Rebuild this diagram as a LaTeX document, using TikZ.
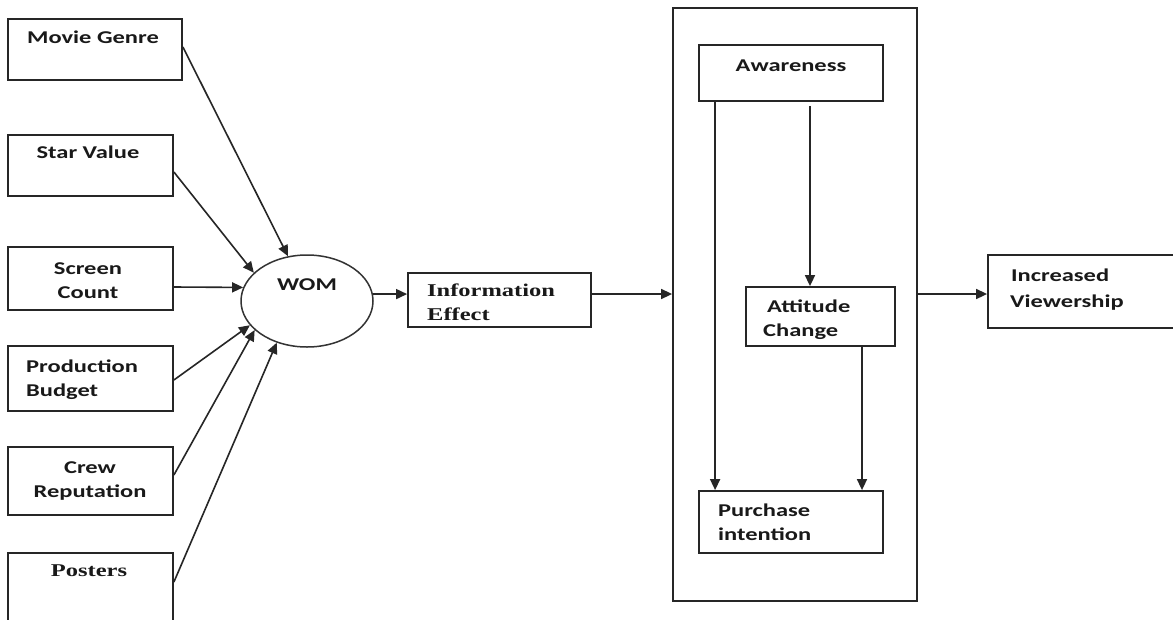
\documentclass[tikz,border=0pt]{standalone}
\usepackage{fontspec}
\setmainfont{Carlito}[FakeStretch=1.36]
\newfontfamily\serifb{Liberation Serif}[FakeStretch=1.36]
\usetikzlibrary{arrows.meta,shapes.geometric}
\begin{document}
\begin{tikzpicture}[x=1pt,y=-1pt,
  box/.style={draw=black!85, line width=1.8pt, rectangle, inner sep=0pt},
  arr/.style={draw=black!85, line width=1.6pt, -{Triangle[length=11pt,width=10pt]}},
  lbl/.style={inner sep=0pt, text=black!90, font=\fontsize{18}{24}\selectfont\bfseries},
  lbls/.style={inner sep=0pt, text=black!90, font=\serifb\fontsize{18}{24}\selectfont\bfseries},
  ]
\useasboundingbox (0,0) rectangle (1173,619);
\fill[white] (0,0) rectangle (1173,619);
\clip (0,0) rectangle (1173,619);

% left boxes
\node[box, minimum width=174pt, minimum height=61pt] (mg) at (95,49.5) {};
\node[box, minimum width=165pt, minimum height=61pt] (sv) at (90.5,165.5) {};
\node[box, minimum width=165pt, minimum height=63pt] (sc) at (90.5,278.5) {};
\node[box, minimum width=165pt, minimum height=65pt] (pb) at (90.5,378.5) {};
\node[box, minimum width=165pt, minimum height=68pt] (cr) at (90.5,481) {};
\node[box, minimum width=165pt, minimum height=92pt] (po) at (90.5,599) {};

\node[lbl, anchor=base] (mgT) at (93,43) {Movie Genre};
\node[lbl, anchor=base] (svT) at (88,158) {Star Value};
\node[lbl, anchor=base] (scT) at (88,274) {\begin{tabular}[t]{@{}c@{}}Screen\\Count\end{tabular}};
\node[lbl, anchor=base west] (pbT) at (26,372) {\begin{tabular}[t]{@{}l@{}}Production\\Budget\end{tabular}};
\node[lbl, anchor=base] (crT) at (90,473) {\begin{tabular}[t]{@{}c@{}}Crew\\Reputation\end{tabular}};
\node[lbls, anchor=base] (poT) at (89,576) {Posters};

% WOM
\node[draw=black!80, line width=1.5pt, ellipse, minimum width=132pt, minimum height=92pt, inner sep=0pt] (wom) at (307,301) {};
\node[lbl, anchor=base] (womT) at (307,290) {WOM};

% information effect
\node[box, minimum width=183pt, minimum height=54pt] (ie) at (499.5,300) {};
\node[lbls, anchor=base west] (ieT) at (427,296) {\begin{tabular}[t]{@{}l@{}}Information\\Effect\end{tabular}};

% big container
\node[box, minimum width=244pt, minimum height=593pt] (big) at (795,304.5) {};
\node[box, minimum width=184pt, minimum height=56pt] (aw) at (791,73) {};
\node[box, minimum width=149pt, minimum height=59pt] (at) at (820.5,316.5) {};
\node[box, minimum width=184pt, minimum height=62pt] (pi) at (791,522) {};

\node[lbl, anchor=base] (awT) at (791,71) {Awareness};
\node[lbl, anchor=base west] (atT) at (763,312) {\begin{tabular}[t]{@{}l@{}}\hspace*{4pt}Attitude\\Change\end{tabular}};
\node[lbl, anchor=base west] (piT) at (718,516) {\begin{tabular}[t]{@{}l@{}}Purchase\\intention\end{tabular}};

% increased viewership
\node[box, minimum width=197pt, minimum height=73pt] (iv) at (1086.5,291.5) {};
\node[lbl, anchor=base west, font=\fontsize{18}{26}\selectfont\bfseries] (ivT) at (1010,281) {\begin{tabular}[t]{@{}l@{}}\hspace*{1pt}Increased\\Viewership\end{tabular}};

% connectors into WOM
\draw[arr] ([yshift=2.5pt]mg.east) -- (wom.113);
\draw[arr] ([yshift=-6.5pt]sv.east) -- (wom.152);
\draw[arr] ([yshift=-8.5pt]sc.east) -- (wom.168);
\draw[arr] ([yshift=-1.5pt]pb.east) -- (wom.203);
\draw[arr] ([yshift=6pt]cr.east) -- (wom.209);
\draw[arr] ([yshift=17pt]po.east) -- (wom.234);

% main flow
\coordinate (lvl) at (0,294);
\draw[arr] (wom.6) -- (wom.6 -| ie.west);
\draw[arr] (ie.east |- lvl) -- (big.west |- lvl);
\draw[arr] (big.east |- lvl) -- (iv.west |- lvl);

% inside container
\draw[arr] ([xshift=17pt]aw.south west) -- ([xshift=17pt]pi.north west);
\draw[arr] ([xshift=19pt,yshift=-4pt]aw.south) -- ([xshift=19pt]aw.south |- at.north);
\draw[arr] ([xshift=41.5pt]at.south) -- ([xshift=41.5pt]at.south |- pi.north);
\end{tikzpicture}
\end{document}
